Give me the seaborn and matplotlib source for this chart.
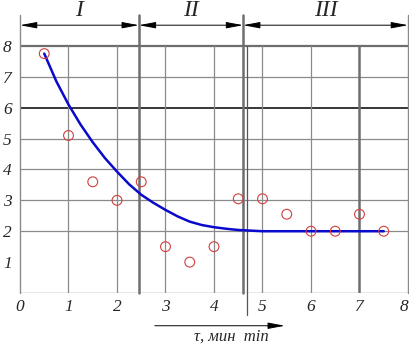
import matplotlib
matplotlib.use("Agg")
import matplotlib.pyplot as plt
import seaborn as sns
import pandas as pd

# Experimental points
pts_x = [0.5, 1.0, 1.5, 2.0, 2.5, 3.0, 3.5, 4.0, 4.5, 5.0, 5.5, 6.0, 6.5, 7.0, 7.5]
pts_y = [7.75, 5.1, 3.6, 3.0, 3.6, 1.5, 1.0, 1.5, 3.05, 3.05, 2.55, 2.0, 2.0, 2.55, 2.0]

# Fitted curve
curve_x = [0.5, 0.75, 1.0, 1.25, 1.5, 1.75, 2.0, 2.25, 2.5, 2.75, 3.0, 3.25, 3.5,
           3.75, 4.0, 4.25, 4.5, 4.75, 5.0, 5.5, 6.0, 6.5, 7.0, 7.5]
curve_y = [7.75, 6.85, 6.1, 5.45, 4.88, 4.37, 3.93, 3.52, 3.18, 2.92, 2.69, 2.48, 2.31,
           2.2, 2.13, 2.08, 2.04, 2.02, 2.0, 2.0, 2.0, 2.0, 2.0, 2.0]

x_ticks = [0, 1, 2, 3, 4, 5, 6, 7, 8]
y_ticks = [1, 2, 3, 4, 5, 6, 7, 8]
stage_bounds = [0, 2.45, 4.6, 8]
stage_labels = ["I", "II", "III"]
x_label = "τ, мин  min"

sns.set_theme(style="white")
plt.rcParams["font.family"] = ["Liberation Serif", "DejaVu Serif"]

fig = plt.figure(figsize=(4.10, 3.47), dpi=100)
ax = fig.add_axes([20 / 410, 54 / 347, 388 / 410, 278 / 347])
ax.set_xlim(0, 8)
ax.set_ylim(0, 9)
for s in ax.spines.values():
    s.set_visible(False)

grid_c = "#8a8a8a"
thick_c = "#6e6e6e"
# horizontal grid
for yv in [2, 3, 4, 5, 7]:
    ax.plot([0, 8], [yv, yv], color=grid_c, lw=0.9, zorder=1)
ax.plot([0, 8], [6, 6], color="black", lw=1.1, zorder=1)
ax.plot([0, 8], [8, 8], color=thick_c, lw=1.6, zorder=1)
ax.plot([0, 8], [0, 0], color=grid_c, lw=1.0, zorder=1)
# vertical grid
for xv in [1, 2, 3, 4, 5, 6]:
    ax.plot([xv, xv], [0, 8], color=grid_c, lw=0.9, zorder=1)
ax.plot([7, 7], [0, 8], color=thick_c, lw=1.8, zorder=1)
ax.plot([4.69, 4.69], [-0.72, 8], color="#555555", lw=0.9, zorder=1, clip_on=False)
for b in stage_bounds:
    lw = 1.0 if b in (0, 8) else 1.8
    ax.plot([b, b], [0, 9], color=thick_c if lw > 1 else grid_c, lw=lw, zorder=1, clip_on=False)

# stage arrows and labels
for i in range(3):
    a, b = stage_bounds[i], stage_bounds[i + 1]
    ax.annotate("", xy=(b, 8.67), xytext=(a, 8.67), annotation_clip=False,
                arrowprops=dict(arrowstyle="<|-|>,head_length=0.85,head_width=0.16",
                                color="black", lw=0.7, shrinkA=0, shrinkB=0))
    ax.text((a + b) / 2, 9.16, stage_labels[i], ha="center", va="center",
            fontsize=17, fontstyle="italic", clip_on=False)

df_c = pd.DataFrame({"x": curve_x, "y": curve_y})
df_p = pd.DataFrame({"x": pts_x, "y": pts_y})
sns.lineplot(data=df_c, x="x", y="y", ax=ax, color="#0a0acc", lw=1.8, zorder=3)
sns.scatterplot(data=df_p, x="x", y="y", ax=ax, s=50, marker="o",
                facecolors="none", edgecolor="#d04040", linewidth=0.8, zorder=4)

ax.set_xticks(x_ticks)
ax.set_yticks(y_ticks)
ax.set_xticklabels([str(t) for t in x_ticks], fontstyle="italic", fontsize=12.5)
ax.set_yticklabels([str(t) for t in y_ticks], fontstyle="italic", fontsize=12.5)
ax.get_xticklabels()[-1].set_horizontalalignment("right")
ax.tick_params(axis="both", length=0, pad=4)
ax.tick_params(axis="y", pad=6)
ax.set_xlabel("")
ax.set_ylabel("")

# bottom arrow and label
ax.annotate("", xy=(5.46, -1.06), xytext=(2.78, -1.06), annotation_clip=False,
            arrowprops=dict(arrowstyle="-|>,head_length=0.85,head_width=0.16",
                            color="black", lw=0.7, shrinkA=0, shrinkB=0))
fig.text(231 / 410, 2 / 347, x_label, ha="center", va="bottom",
         fontsize=12, fontstyle="italic")

fig.savefig("out.png", dpi=100)
